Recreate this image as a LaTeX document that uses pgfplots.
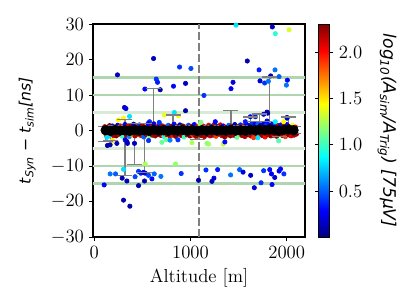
\documentclass[border=0pt]{standalone}
\usepackage{fontspec}
\usepackage{pgfplots}
\usepackage{pgfplotstable}
\pgfplotsset{compat=1.18}
\newfontfamily\dvs{DejaVu Sans}
\definecolor{gmid}{RGB}{176,214,176}
\definecolor{glight}{RGB}{214,234,214}
\definecolor{ebar}{RGB}{128,128,128}
\newcommand{\fs}{\fontsize{12}{14}\selectfont}
\newcommand{\fl}{\fontsize{10}{12}\selectfont}

% binned mean and spread (caps read off the same table)
\pgfplotstableread[row sep=\\]{
x y ep em top bot\\
120 0.1 1.0 3.1 1.1 -3.0\\ 170 -0.1 1.0 2.7 0.9 -2.8\\ 220 0.2 1.1 1.0 1.3 -0.8\\ 270 0.0 0.9 1.2 0.9 -1.2\\
320 0.1 3.0 12.7 3.1 -12.6\\ 370 -0.1 1.0 1.1 0.9 -1.2\\ 420 0.2 1.9 9.7 2.1 -9.5\\ 470 0.0 1.2 1.0 1.2 -1.0\\
520 0.1 1.8 12.0 1.9 -11.9\\ 570 -0.1 1.0 1.0 0.9 -1.1\\ 620 0.2 11.7 1.3 11.9 -1.1\\ 670 0.0 1.0 1.0 1.0 -1.0\\
720 0.1 1.1 1.0 1.2 -0.9\\ 770 -0.1 1.0 1.1 0.9 -1.2\\ 820 0.1 4.3 1.0 4.4 -0.9\\ 870 0.0 1.0 1.0 1.0 -1.0\\
920 0.2 1.2 1.0 1.4 -0.8\\ 970 0.0 1.0 1.0 1.0 -1.0\\ 1020 0.1 1.0 1.0 1.1 -0.9\\ 1070 -0.1 1.0 2.5 0.9 -2.6\\
1120 0.1 1.0 1.0 1.1 -0.9\\ 1170 0.0 1.0 1.0 1.0 -1.0\\ 1220 0.2 1.1 1.0 1.3 -0.8\\ 1270 0.0 1.0 1.0 1.0 -1.0\\
1320 0.1 1.0 1.0 1.1 -0.9\\ 1370 0.0 1.0 1.0 1.0 -1.0\\ 1420 0.2 5.4 1.0 5.6 -0.8\\ 1470 0.0 1.0 1.0 1.0 -1.0\\
1520 0.1 1.2 1.0 1.3 -0.9\\ 1570 0.0 1.0 1.0 1.0 -1.0\\ 1620 0.2 3.6 1.0 3.8 -0.8\\ 1670 0.1 2.5 1.0 2.6 -0.9\\
1720 0.3 4.4 1.0 4.7 -0.7\\ 1770 0.1 2.4 1.0 2.5 -0.9\\ 1820 0.3 14.8 1.0 15.1 -0.7\\ 1870 0.1 1.0 1.0 1.1 -0.9\\
1920 0.0 1.0 1.7 1.0 -1.7\\ 1970 0.2 1.0 1.0 1.2 -0.8\\ 2020 0.3 3.5 1.0 3.8 -0.7\\ 2070 0.1 1.0 1.0 1.1 -0.9\\
}\bins

\begin{document}
\begin{tikzpicture}
  \useasboundingbox (-59.5pt,-44.8pt) rectangle (205.4pt,151.7pt);
  \begin{axis}[
    at={(0,0)}, anchor=south west,
    scale only axis, width=135.7pt, height=136.3pt,
    xmin=-12, xmax=2190, ymin=-30, ymax=30,
    xtick={0,1000,2000}, ytick={-30,-20,...,30},
    tick pos=left, tick align=outside, major tick length=2.3pt,
    axis line style={line width=0.8pt}, tick style={line width=0.6pt, black},
    tick label style={font=\fs},
    /pgf/number format/1000 sep={},
    xlabel={Altitude [m]},
    xlabel style={font=\fs, at={(axis description cs:0.5,-0.19)}, anchor=center},
    ylabel={{\dvs\itshape t\textsubscript{Syn} − t\textsubscript{sim}[ns]}},
    ylabel style={font=\fl, at={(axis description cs:-0.31,0.5)}, anchor=center},
    colormap/jet, point meta min=0, point meta max=2.31,
    colorbar,
    colorbar style={
      at={(parent axis.north east)}, anchor=north west, xshift=0pt,
      width=7.2pt,
      ytick={0.5,1.0,1.5,2.0},
      yticklabel style={font=\fs, /pgf/number format/.cd, fixed, fixed zerofill, precision=1},
      tick align=outside, major tick length=2.3pt,
      tick style={line width=0.6pt, black},
      axis line style={line width=0.6pt},
      ylabel={{\dvs\itshape log\textsubscript{10}(A\textsubscript{sim}/A\textsubscript{Trig}) [75μV]}},
      ylabel style={font=\fontsize{11}{13}\selectfont, at={(axis description cs:6.1,0.5)}, anchor=center, rotate=180},
    },
  ]
    % horizontal reference lines
    \addplot[gmid, line width=1.8pt, forget plot] coordinates {(-100,15) (2300,15)};
    \addplot[gmid, line width=1.8pt, forget plot] coordinates {(-100,10) (2300,10)};
    \addplot[glight, line width=1.8pt, forget plot] coordinates {(-100,5) (2300,5)};
    \addplot[glight, line width=1.8pt, forget plot] coordinates {(-100,-5) (2300,-5)};
    \addplot[gmid, line width=1.8pt, forget plot] coordinates {(-100,-10) (2300,-10)};
    \addplot[gmid, line width=1.8pt, forget plot] coordinates {(-100,-15) (2300,-15)};
    \addplot[black!50, line width=1.4pt, dash pattern=on 5pt off 2pt, forget plot] coordinates {(1090,-30) (1090,30)};

    % single antennas
    \addplot[scatter, only marks, mark=*, mark size=1.4pt, point meta=explicit,
      scatter/use mapped color={draw=mapped color, fill=mapped color}]
      table[row sep=\\, meta=c] {
      x y c\\
      110 1.1 2.2\\ 125 -1.2 2.0\\ 140 0.8 1.9\\ 150 -1.6 0.8\\ 160 1.4 2.25\\ 175 -0.9 2.1\\
      190 1.3 0.3\\ 200 -1.4 2.2\\ 215 1.0 1.8\\ 230 -1.5 2.28\\ 245 1.5 0.2\\ 260 -1.1 2.15\\
      275 1.3 2.0\\ 290 -1.6 1.0\\ 305 0.9 2.3\\ 320 1.7 0.25\\ 335 -1.3 2.2\\ 350 1.2 2.1\\
      365 -1.7 0.6\\ 380 1.4 2.25\\ 395 -1.2 1.7\\ 410 1.8 0.15\\ 425 -1.5 2.2\\ 440 1.1 2.0\\
      455 -1.0 2.3\\ 470 1.6 0.4\\ 485 -1.4 2.1\\ 500 1.3 2.25\\ 515 -1.8 0.5\\ 530 1.0 1.9\\
      545 -1.2 2.2\\ 560 1.5 2.28\\ 575 -1.6 1.1\\ 590 1.2 2.1\\ 605 -1.3 2.2\\ 620 1.9 0.2\\
      635 -1.5 2.25\\ 650 1.1 2.0\\ 665 -1.1 2.3\\ 680 1.6 0.35\\ 695 -1.4 2.15\\ 710 1.3 2.2\\
      725 -1.7 0.9\\ 740 1.0 2.28\\ 755 -1.2 2.1\\ 770 1.5 0.5\\ 785 -1.5 2.2\\ 800 1.2 2.25\\
      815 -1.3 2.0\\ 830 1.8 0.3\\ 845 -1.6 2.3\\ 860 1.1 2.1\\ 875 -1.0 2.2\\ 890 1.6 0.2\\
      905 -1.4 2.25\\ 920 1.3 2.28\\ 935 -1.8 1.0\\ 950 1.0 2.1\\ 965 -1.2 2.2\\ 980 1.5 0.45\\
      995 -1.5 2.3\\ 1010 1.2 2.2\\ 1025 -1.3 1.9\\ 1040 1.7 0.3\\ 1055 -1.6 2.25\\ 1070 1.1 2.1\\
      1085 -1.1 2.2\\ 1100 1.6 1.2\\ 1115 -1.4 2.28\\ 1130 1.3 2.0\\ 1145 -1.7 2.2\\ 1160 1.0 0.25\\
      1175 -1.2 2.3\\ 1190 1.5 2.1\\ 1205 -1.5 2.2\\ 1220 1.2 0.4\\ 1235 -1.3 2.25\\ 1250 1.8 2.2\\
      1265 -1.6 1.9\\ 1280 1.1 0.2\\ 1295 -1.0 2.3\\ 1310 1.6 2.1\\ 1325 -1.4 2.2\\ 1340 1.3 0.3\\
      1355 -1.8 2.28\\ 1370 1.0 2.0\\ 1385 -1.2 2.2\\ 1400 1.5 0.5\\ 1415 -1.5 2.25\\ 1430 1.2 2.1\\
      1445 -1.3 2.2\\ 1460 1.7 0.15\\ 1475 -1.6 2.3\\ 1490 1.1 2.2\\ 1505 -1.1 1.8\\ 1520 1.6 0.35\\
      1535 -1.4 2.25\\ 1550 1.3 2.1\\ 1565 -1.7 2.2\\ 1580 1.8 0.3\\ 1595 -1.2 2.28\\ 1610 1.5 0.25\\
      1625 -1.5 2.2\\ 1640 1.9 0.4\\ 1655 -1.3 2.1\\ 1670 1.7 0.2\\ 1685 -1.6 2.3\\ 1700 1.8 0.5\\
      1715 -1.0 2.2\\ 1730 1.6 0.3\\ 1745 -1.4 2.25\\ 1760 1.9 0.15\\ 1775 -1.8 2.0\\ 1790 1.7 0.4\\
      1805 -1.2 2.2\\ 1820 1.5 0.3\\ 1835 -1.5 2.28\\ 1850 1.8 0.2\\ 1865 -1.3 2.1\\ 1880 1.6 0.45\\
      1895 -1.6 2.2\\ 1910 1.4 2.25\\ 1925 -1.1 2.3\\ 1940 1.6 0.3\\ 1955 -1.4 2.2\\ 1970 1.3 2.1\\
      1985 -1.7 1.9\\ 2000 1.7 0.25\\ 2015 -1.2 2.28\\ 2030 1.2 2.2\\ 2045 -1.5 2.1\\ 2060 1.5 1.4\\
      2075 -1.3 2.2\\ 2090 1.0 2.0\\ 2100 -1.0 2.25\\
      242 15.7 0.15\\ 617 20.3 0.15\\ 645 14.5 0.4\\ 658 13.6 0.35\\ 527 11.7 0.3\\ 686 11.5 0.1\\
      887 17.9 0.4\\ 1005 17.5 0.45\\ 824 12.5 0.3\\ 949 13.3 0.15\\ 949 5.6 0.1\\ 315 6.5 0.15\\
      330 6.2 0.2\\ 367 4.0 0.8\\ 305 3.5 1.45\\ 728 4.4 1.4\\ 832 5.1 0.8\\ 876 4.2 1.45\\
      575 2.5 0.4\\ 1473 29.7 0.8\\ 1850 29.2 0.15\\ 1881 27.3 0.95\\ 2024 28.4 1.35\\ 1590 19.6 0.1\\
      1712 17.1 0.35\\ 1878 17.1 0.55\\ 1442 13.6 0.2\\ 1421 11.8 0.25\\ 1722 14.0 0.2\\ 1770 13.4 0.4\\
      1809 13.9 0.55\\ 1833 15.4 0.1\\ 1920 15.2 0.5\\ 2006 14.2 0.3\\ 1996 12.8 0.55\\ 1140 9.9 0.4\\
      1802 4.9 0.1\\ 2003 3.5 0.2\\ 1622 3.9 0.3\\ 1674 3.9 0.35\\ 1760 4.6 0.25\\ 1795 5.2 0.1\\
      1795 2.7 0.3\\ 1570 2.5 0.35\\ 2003 3.7 0.2\\ 1881 2.5 0.85\\ 1968 2.5 1.45\\ 250 3.0 1.45\\
      676 2.3 0.4\\ 560 2.0 0.3\\ 1109 2.3 1.15\\ 1258 2.5 0.3\\
      340 -3.1 0.1\\ 419 -3.6 0.15\\ 703 -3.3 1.1\\ 748 -2.6 1.1\\ 788 -2.7 0.6\\ 1188 -3.8 1.25\\
      132 -1.9 0.8\\ 190 -2.8 1.5\\ 166 -4.0 0.1\\ 138 -4.2 0.1\\ 236 -3.6 0.1\\ 346 -3.6 0.15\\
      322 -2.6 0.2\\ 565 -2.8 0.4\\ 870 -2.6 0.4\\ 1015 -3.4 1.25\\ 1171 -3.6 1.2\\ 1341 -3.8 1.3\\
      1357 -3.2 0.3\\ 1916 -2.9 1.05\\ 1656 -2.0 1.9\\ 1700 -2.0 0.8\\ 1483 -1.9 1.1\\
      104 -15.3 0.3\\ 166 -12.2 0.55\\ 222 -12.2 0.5\\ 305 -10.9 0.8\\ 291 -13.4 0.1\\ 340 -14.2 0.15\\
      305 -19.6 0.1\\ 371 -21.3 0.1\\ 461 -15.5 0.1\\ 461 -11.5 0.4\\ 485 -12.0 0.35\\ 512 -11.8 0.25\\
      530 -12.0 0.2\\ 523 -14.2 0.1\\ 565 -12.6 0.45\\ 600 -13.6 0.3\\ 624 -12.2 0.5\\ 693 -12.9 0.55\\
      425 -13.0 0.45\\ 530 -9.4 1.25\\ 845 -9.4 1.2\\ 904 -12.1 0.4\\ 1084 -14.0 0.1\\ 1161 -11.1 0.4\\
      1282 -11.0 0.35\\ 1223 -14.3 0.15\\ 1244 -13.4 0.2\\ 1417 -12.5 0.55\\ 1510 -11.0 0.5\\
      1546 -11.7 0.2\\ 1625 -12.6 0.15\\ 1663 -16.1 0.2\\ 1733 -14.7 0.4\\ 1760 -11.3 0.4\\
      1823 -11.0 0.3\\ 1841 -12.2 0.25\\ 1875 -13.2 0.2\\ 1847 -15.2 0.3\\ 1920 -11.4 0.25\\
      1935 -10.8 0.3\\ 1970 -12.2 0.4\\
    };

    % spread of each bin: bars, then caps, then the mean on top
    \addplot[ebar, only marks, mark=none, forget plot,
      error bars/.cd, y dir=both, y explicit, error mark=none,
      error bar style={ebar, line width=0.8pt}]
      table[x=x, y=y, y error plus=ep, y error minus=em] {\bins};
    \addplot[ebar, only marks, mark=-, mark size=4.8pt, mark options={line width=0.8pt}, forget plot]
      table[x=x, y=top] {\bins};
    \addplot[ebar, only marks, mark=-, mark size=4.8pt, mark options={line width=0.8pt}, forget plot]
      table[x=x, y=bot] {\bins};
    \addplot[black, only marks, mark=*, mark size=3.1pt, forget plot]
      table[x=x, y=y] {\bins};
  \end{axis}
\end{tikzpicture}
\end{document}
